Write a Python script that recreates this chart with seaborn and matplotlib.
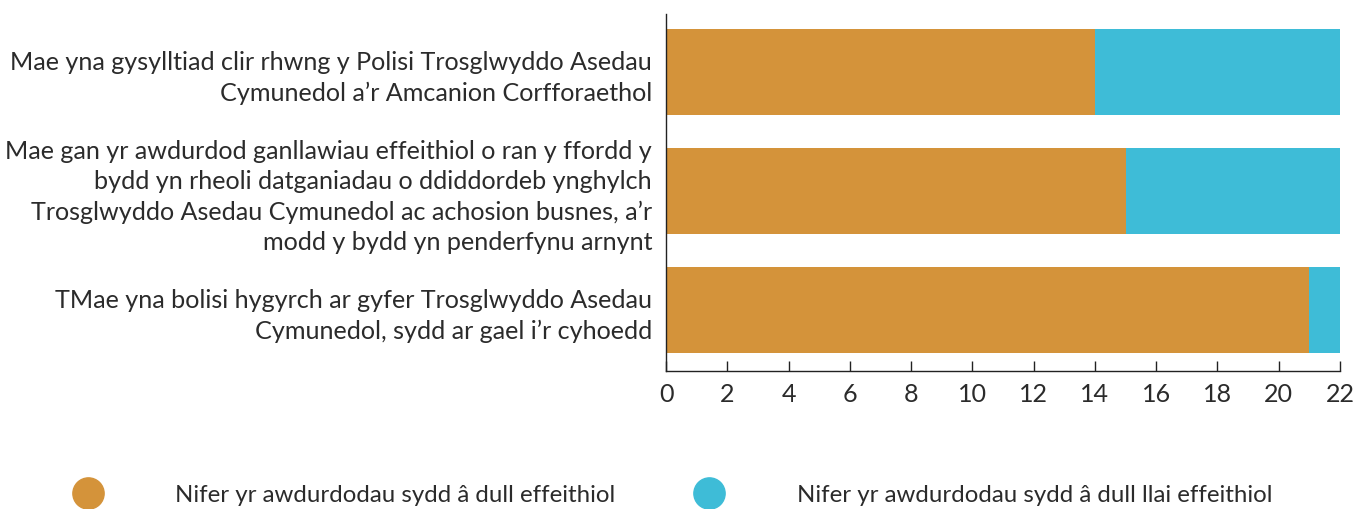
import matplotlib
matplotlib.use("Agg")
import matplotlib.pyplot as plt
from matplotlib.lines import Line2D
import pandas as pd
import seaborn as sns

# Chart data
statements = [
    "Mae yna gysylltiad clir rhwng y Polisi Trosglwyddo Asedau\nCymunedol a’r Amcanion Corfforaethol",
    "Mae gan yr awdurdod ganllawiau effeithiol o ran y ffordd y\nbydd yn rheoli datganiadau o ddiddordeb ynghylch\n"
    "Trosglwyddo Asedau Cymunedol ac achosion busnes, a’r\nmodd y bydd yn penderfynu arnynt",
    "TMae yna bolisi hygyrch ar gyfer Trosglwyddo Asedau\nCymunedol, sydd ar gael i’r cyhoedd",
]
effective = [14, 15, 21]
less_effective = [8, 7, 1]
series_names = [
    "Nifer yr awdurdodau sydd â dull effeithiol",
    "Nifer yr awdurdodau sydd â dull llai effeithiol",
]
x_ticks = list(range(0, 23, 2))

ORANGE = "#D4933A"
BLUE = "#3EBCD7"
TEXT = "#2b2b2b"
FS = 18.1

sns.set_style("ticks")
plt.rcParams["font.family"] = ["Lato", "DejaVu Sans"]
plt.rcParams["font.size"] = FS
plt.rcParams["text.color"] = TEXT

df = pd.DataFrame({
    "statement": statements,
    "effective": effective,
    "total": [a + b for a, b in zip(effective, less_effective)],
})

fig = plt.figure(figsize=(13.67, 5.09), dpi=100)
ax = fig.add_axes([666 / 1367, 1 - 371 / 509, (1340 - 666) / 1367, (371 - 14) / 509])

# stacked bars: total first (blue), effective on top (orange)
sns.barplot(data=df, x="total", y="statement", orient="h", color=BLUE,
            width=0.72, saturation=1, linewidth=0, ax=ax)
sns.barplot(data=df, x="effective", y="statement", orient="h", color=ORANGE,
            width=0.72, saturation=1, linewidth=0, ax=ax)

ax.set_xlim(0, 22)
ax.set_ylim(2.51, -0.49)
ax.set_xticks(x_ticks)
ax.set_xlabel("")
ax.set_ylabel("")
sns.despine(ax=ax, top=True, right=True)
for side in ["left", "bottom"]:
    ax.spines[side].set_color("#222222")
    ax.spines[side].set_linewidth(1.0)
ax.tick_params(axis="x", direction="in", length=7, width=1.0, pad=9,
               colors="#222222", labelcolor=TEXT, labelsize=FS)
ax.tick_params(axis="y", length=0, pad=10, labelcolor=TEXT, labelsize=FS)
for lbl in ax.get_yticklabels():
    lbl.set_linespacing(1.37)
    lbl.set_horizontalalignment("right")

handles = [
    Line2D([], [], marker="o", linestyle="", markersize=22.5,
           markerfacecolor=ORANGE, markeredgecolor=ORANGE),
    Line2D([], [], marker="o", linestyle="", markersize=22.5,
           markerfacecolor=BLUE, markeredgecolor=BLUE),
]
fig.legend(handles, series_names, ncol=2, frameon=False,
           loc="center left", bbox_to_anchor=(66 / 1367, 14 / 509),
           borderpad=0, borderaxespad=0, handlelength=1.8,
           handletextpad=2.75, columnspacing=3.0, fontsize=17.3)

plt.savefig("out.png", dpi=100)
